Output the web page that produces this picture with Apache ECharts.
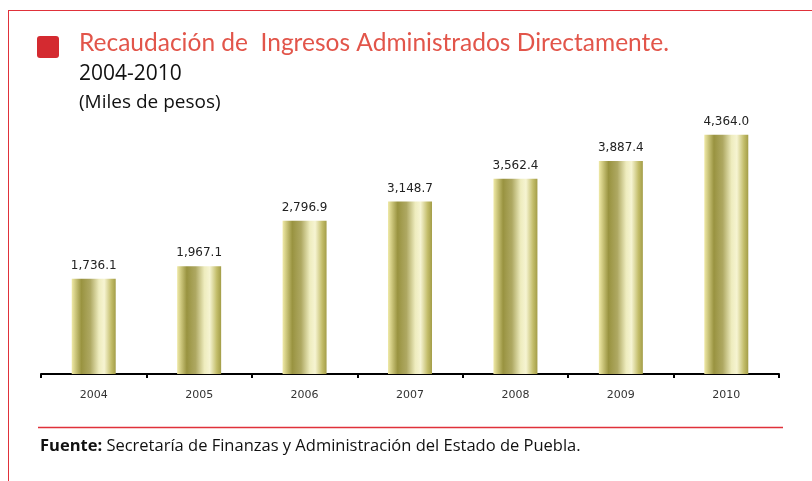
<!DOCTYPE html>
<html>
<head>
<meta charset="utf-8">
<script src="https://cdn.jsdelivr.net/npm/echarts@6/dist/echarts.min.js"></script>
<style>
html,body{margin:0;padding:0;background:#fff;}
#chart{width:812px;height:481px;}
</style>
</head>
<body>
<div id="chart"></div>
<script>
// datos
var years = ['2004', '2005', '2006', '2007', '2008', '2009', '2010'];
var recaudacion = [1736.1, 1967.1, 2796.9, 3148.7, 3562.4, 3887.4, 4364.0];

var titulo = 'Recaudación de  Ingresos Administrados Directamente.';
var periodo = '2004-2010';
var unidades = '(Miles de pesos)';

var chart = echarts.init(document.getElementById('chart'));

// degradado horizontal tipo "cilindro dorado"
var barColor = new echarts.graphic.LinearGradient(0, 0, 1, 0, [
    { offset: 0, color: '#f0eaa8' },
    { offset: 0.1, color: '#c8c277' },
    { offset: 0.22, color: '#999340' },
    { offset: 0.42, color: '#aea862' },
    { offset: 0.62, color: '#eeecbe' },
    { offset: 0.74, color: '#f6f4d2' },
    { offset: 0.9, color: '#c3bd6a' },
    { offset: 1, color: '#a39d48' }
]);

function fmt(v) {
    var s = v.toFixed(1).split('.');
    return s[0].replace(/\B(?=(\d{3})+(?!\d))/g, ',') + '.' + s[1];
}

var option = {
    animation: false,
    backgroundColor: '#fff',
    grid: { left: 41, right: 33, top: 100, bottom: 107 },
    xAxis: {
        type: 'category',
        data: years,
        axisLine: { lineStyle: { color: '#000', width: 2 } },
        axisTick: { show: true, length: 4, lineStyle: { color: '#000', width: 2 } },
        axisLabel: { color: '#333', fontSize: 11, fontFamily: 'DejaVu Sans', margin: 16 }
    },
    yAxis: {
        type: 'value',
        min: 0,
        max: 5000,
        show: false
    },
    series: [{
        type: 'bar',
        data: recaudacion,
        barWidth: 44,
        itemStyle: { color: barColor },
        label: {
            show: true,
            position: 'top',
            distance: 7,
            color: '#222',
            fontSize: 12,
            fontFamily: 'DejaVu Sans',
            formatter: function (p) { return fmt(p.value); }
        }
    }],
    graphic: [
        // marco rojo
        { type: 'line', shape: { x1: 8, y1: 10.5, x2: 812, y2: 10.5 }, style: { stroke: '#e0313a', lineWidth: 1 } },
        { type: 'line', shape: { x1: 8.5, y1: 10, x2: 8.5, y2: 481 }, style: { stroke: '#e0313a', lineWidth: 1 } },
        // cuadro rojo del título
        { type: 'rect', shape: { x: 37, y: 36, width: 22, height: 22, r: 3 }, style: { fill: '#d42a30' } },
        { type: 'text', left: 79, top: 31, style: { text: titulo, fill: '#e2554a', font: '24.5px Lato' } },
        { type: 'text', left: 79, top: 64, style: { text: periodo, fill: '#111', font: '21px "Open Sans"' } },
        { type: 'text', left: 79, top: 93, style: { text: unidades, fill: '#111', font: '19px "Open Sans"' } },
        // línea de fuente
        { type: 'line', shape: { x1: 38, y1: 427.5, x2: 783, y2: 427.5 }, style: { stroke: '#e0313a', lineWidth: 1.5 } },
        {
            type: 'text', left: 40, top: 438,
            style: {
                text: '{b|Fuente:} Secretaría de Finanzas y Administración del Estado de Puebla.',
                fill: '#111',
                font: '16.5px "Open Sans"',
                rich: {
                    b: { fontWeight: 'bold', fontSize: 16.5, fontFamily: 'Open Sans', fill: '#111' }
                }
            }
        }
    ]
};

chart.setOption(option);
</script>
</body>
</html>
